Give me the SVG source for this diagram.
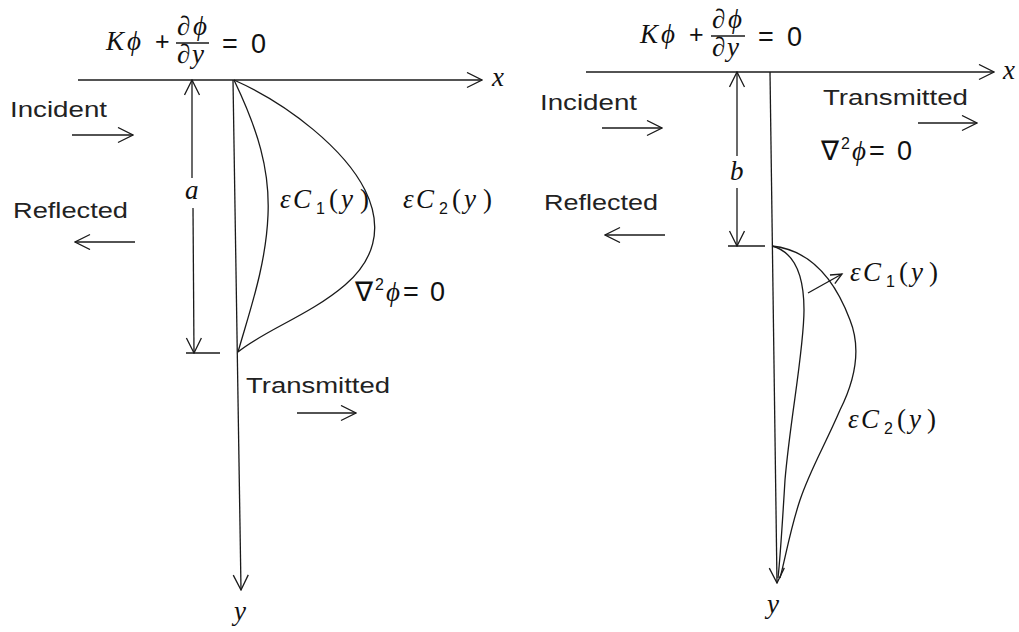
<svg xmlns="http://www.w3.org/2000/svg" width="1019" height="632" viewBox="0 0 1019 632">
<style>
.ln{stroke:#1a1a1a;stroke-width:1.3;fill:none}
.ar{marker-end:url(#ah)}
.sans{font-family:"Liberation Sans",Arial,sans-serif;font-size:22px;fill:#222}
.m{font-family:"Liberation Serif","Times New Roman",serif;font-style:italic;font-size:27px;fill:#111}
.up{font-style:normal}
.ss{font-family:"Liberation Sans",Arial,sans-serif;font-style:normal}
</style>
<defs>
<marker id="ah" markerWidth="17" markerHeight="17" refX="16" refY="8" orient="auto-start-reverse" markerUnits="userSpaceOnUse">
<path d="M1,0.5 L16,8 L1,15.5" fill="none" stroke="#1a1a1a" stroke-width="1.3"/>
</marker>
<marker id="ahs" markerWidth="14" markerHeight="14" refX="12" refY="6" orient="auto" markerUnits="userSpaceOnUse">
<path d="M1,1 L12,6 L1,11" fill="none" stroke="#1a1a1a" stroke-width="1.3"/>
</marker>
</defs>
<rect width="1019" height="632" fill="#fff"/>

<g id="connectors">
<!-- left panel -->
<path class="ln ar" d="M78,80 L482,80"/>
<path class="ln ar" d="M233,80 L241,590"/>
<path class="ln" d="M192,178 L192,80" marker-end="url(#ah)"/>
<path class="ln ar" d="M193,208 L194,353"/>
<path class="ln" d="M186,353 L220,353"/>
<path class="ln ar" d="M72,135 L133,135"/>
<path class="ln ar" d="M135,242 L75,242"/>
<path class="ln ar" d="M297,413 L356,413"/>
<path class="ln" d="M234,80 C258,130 270,170 268,215 C266,265 250,310 238,352"/>
<path class="ln" d="M234,80 C290,105 345,150 365,190 C385,230 372,262 345,285 C310,315 265,330 238,352"/>
<!-- right panel -->
<path class="ln ar" d="M586,72 L994,72"/>
<path class="ln ar" d="M770,72 L777,583"/>
<path class="ln" d="M737,156 L737,72" marker-end="url(#ah)"/>
<path class="ln ar" d="M737,188 L737,246"/>
<path class="ln" d="M728,246 L765,246"/>
<path class="ln ar" d="M602,128 L662,128"/>
<path class="ln ar" d="M665,235 L605,235"/>
<path class="ln ar" d="M918,123 L977,123"/>
<path class="ln" d="M808,293 L842,274" marker-end="url(#ahs)"/>
<path class="ln" d="M772,246 C795,252 804,275 804,310 C804,350 790,420 785,480 C782,530 780,560 778,578"/>
<path class="ln" d="M772,246 C810,250 835,280 850,320 C862,350 855,380 840,410 C825,445 810,470 800,500 C790,530 785,560 780,578"/>
</g>

<g id="left-boundary-condition">
<text class="m" y="50"><tspan x="106">K</tspan><tspan x="127">ϕ</tspan><tspan x="155" class="up ss" font-size="25">+</tspan></text>
<text class="m" y="35" font-size="25"><tspan x="177" class="up">∂</tspan><tspan x="193">ϕ</tspan></text>
<path class="ln" d="M176,43 L209,43"/>
<text class="m" y="63" font-size="25"><tspan x="177" class="up">∂</tspan><tspan x="192">y</tspan></text>
<text class="m ss" y="53" font-size="28"><tspan x="222">=</tspan><tspan x="251">0</tspan></text>
</g>

<g id="left-labels">
<text class="m" x="492" y="86">x</text>
<text class="m" x="234" y="620">y</text>
<text class="m" x="185" y="199">a</text>
<text class="sans" x="10" y="117" textLength="97" lengthAdjust="spacingAndGlyphs">Incident</text>
<text class="sans" x="13" y="218" textLength="115" lengthAdjust="spacingAndGlyphs">Reflected</text>
<text class="sans" x="246" y="393" textLength="144" lengthAdjust="spacingAndGlyphs">Transmitted</text>
<text class="m" y="208"><tspan x="280">ε</tspan><tspan x="293">C</tspan><tspan x="316" dy="6" class="ss" font-size="16">1</tspan><tspan x="329" dy="-6" class="up">(</tspan><tspan x="341">y</tspan><tspan x="360" class="up">)</tspan></text>
<text class="m" y="208"><tspan x="403">ε</tspan><tspan x="416">C</tspan><tspan x="439" dy="6" class="ss" font-size="16">2</tspan><tspan x="452" dy="-6" class="up">(</tspan><tspan x="464">y</tspan><tspan x="483" class="up">)</tspan></text>
<text class="m ss" y="301" font-size="25"><tspan x="355">∇</tspan><tspan x="375" dy="-11" font-size="16">2</tspan><tspan x="386" dy="11" class="m" style="font-size:27px">ϕ</tspan><tspan x="403">=</tspan><tspan x="430">0</tspan></text>
</g>

<g id="right-boundary-condition">
<text class="m" y="43"><tspan x="640">K</tspan><tspan x="661">ϕ</tspan><tspan x="689" class="up ss" font-size="25">+</tspan></text>
<text class="m" y="28" font-size="25"><tspan x="712" class="up">∂</tspan><tspan x="728">ϕ</tspan></text>
<path class="ln" d="M711,36 L745,36"/>
<text class="m" y="56" font-size="25"><tspan x="712" class="up">∂</tspan><tspan x="727">y</tspan></text>
<text class="m ss" y="46" font-size="28"><tspan x="758">=</tspan><tspan x="787">0</tspan></text>
</g>

<g id="right-labels">
<text class="m" x="1003" y="79">x</text>
<text class="m" x="767" y="613">y</text>
<text class="m" x="730" y="180">b</text>
<text class="sans" x="540" y="110" textLength="97" lengthAdjust="spacingAndGlyphs">Incident</text>
<text class="sans" x="544" y="210" textLength="114" lengthAdjust="spacingAndGlyphs">Reflected</text>
<text class="sans" x="823" y="105" textLength="145" lengthAdjust="spacingAndGlyphs">Transmitted</text>
<text class="m ss" y="160" font-size="25"><tspan x="821">∇</tspan><tspan x="841" dy="-11" font-size="16">2</tspan><tspan x="852" dy="11" class="m" style="font-size:27px">ϕ</tspan><tspan x="869">=</tspan><tspan x="897">0</tspan></text>
<text class="m" y="281"><tspan x="850">ε</tspan><tspan x="863">C</tspan><tspan x="886" dy="6" class="ss" font-size="16">1</tspan><tspan x="899" dy="-6" class="up">(</tspan><tspan x="911">y</tspan><tspan x="929" class="up">)</tspan></text>
<text class="m" y="428"><tspan x="848">ε</tspan><tspan x="861">C</tspan><tspan x="884" dy="6" class="ss" font-size="16">2</tspan><tspan x="897" dy="-6" class="up">(</tspan><tspan x="909">y</tspan><tspan x="927" class="up">)</tspan></text>
</g>
</svg>
